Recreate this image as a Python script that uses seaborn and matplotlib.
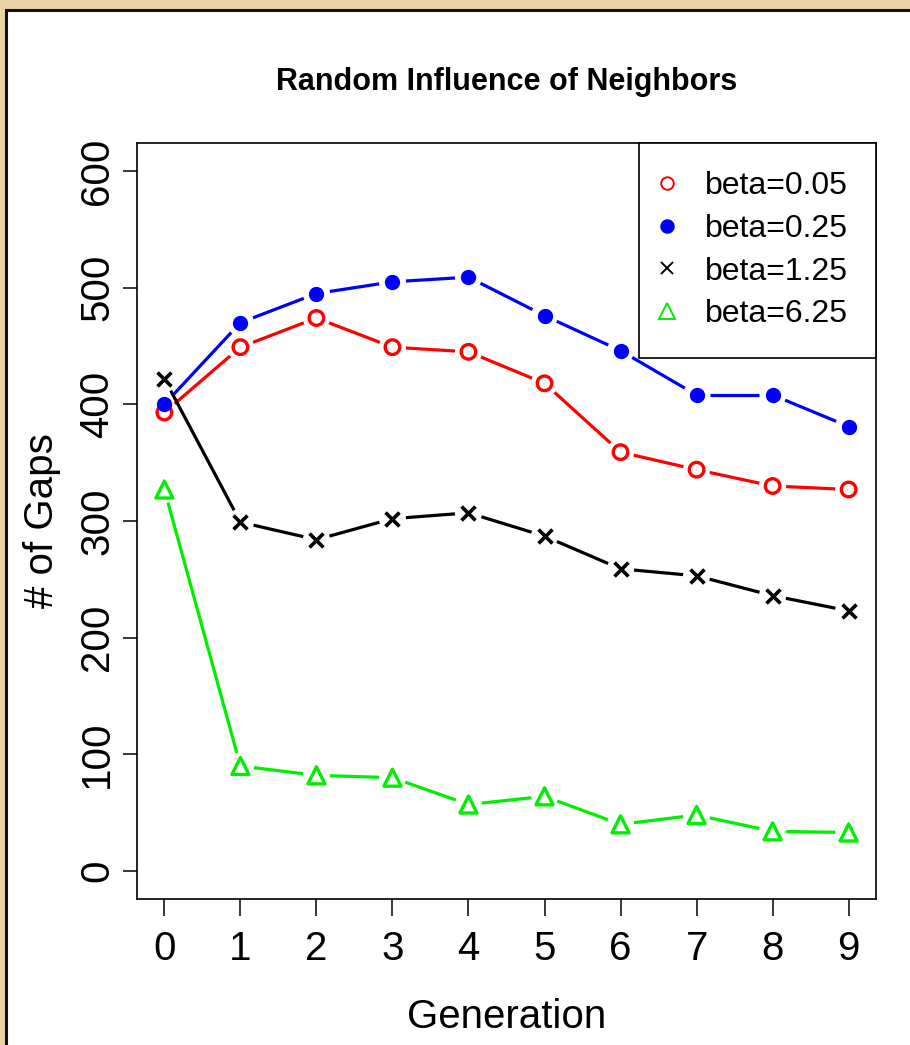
import numpy as np
import pandas as pd
import matplotlib
matplotlib.use("Agg")
import matplotlib.pyplot as plt
from matplotlib import font_manager
from matplotlib.lines import Line2D
from matplotlib.patches import Rectangle
import seaborn as sns

# ---- data -------------------------------------------------------------
generation = [0, 1, 2, 3, 4, 5, 6, 7, 8, 9]
gaps_beta_005 = [393, 449, 474, 449, 445, 418, 359, 344, 330, 327]
gaps_beta_025 = [400, 470, 495, 505, 509, 476, 446, 408, 408, 381]
gaps_beta_125 = [422, 299, 284, 302, 307, 287, 259, 253, 236, 223]
gaps_beta_625 = [327, 90, 82, 80, 57, 64, 40, 48, 34, 33]
series_labels = ["beta=0.05", "beta=0.25", "beta=1.25", "beta=6.25"]
y_ticks = [0, 100, 200, 300, 400, 500, 600]

sns.set_theme(style="white")
installed = {f.name for f in font_manager.fontManager.ttflist}
family = "Liberation Sans Narrow" if "Liberation Sans Narrow" in installed else "Liberation Sans"
plt.rcParams["font.family"] = [family, "DejaVu Sans"]
plt.rcParams["text.color"] = "black"
plt.rcParams["axes.labelcolor"] = "black"
plt.rcParams["xtick.color"] = "black"
plt.rcParams["ytick.color"] = "black"

W, H = 910, 1045
fig = plt.figure(figsize=(W / 100, H / 100), dpi=100, facecolor="#e8d3a6")

# white page with a dark frame on the parchment
page = Rectangle((6 / W, -0.05), 1.2, 1.05 - 10 / H,
                 transform=fig.transFigure, facecolor="white",
                 edgecolor="#111111", linewidth=2.2, zorder=-10)
fig.add_artist(page)

ax = fig.add_axes([137 / W, 1 - 899 / H, 739 / W, 756 / H])
ax.set_zorder(5)
ax.set_facecolor("white")
ax.set_xlim(-0.36, 9.36)
ax.set_ylim(-24, 624)

styles = [
    dict(color="#ff0000", marker="o", filled=False),
    dict(color="#0000ff", marker="o", filled=True),
    dict(color="#000000", marker="x", filled=False),
    dict(color="#00ee00", marker="^", filled=False),
]
all_series = [gaps_beta_005, gaps_beta_025, gaps_beta_125, gaps_beta_625]

fig.canvas.draw()
to_disp = ax.transData
to_data = ax.transData.inverted()
gap_px = 13.5

for vals, st in zip(all_series, styles):
    pts = to_disp.transform(np.column_stack([generation, vals]))
    # connecting segments stop short of each point (type "b" look)
    for p, q in zip(pts[:-1], pts[1:]):
        d = q - p
        L = np.hypot(*d)
        if L <= 2 * gap_px:
            continue
        u = d / L
        a = to_data.transform(p + u * gap_px)
        b = to_data.transform(q - u * gap_px)
        ax.plot([a[0], b[0]], [a[1], b[1]], color=st["color"], lw=2.3,
                solid_capstyle="butt", zorder=2)
    df = pd.DataFrame({"generation": generation, "gaps": vals})
    if st["marker"] == "x":
        sns.scatterplot(data=df, x="generation", y="gaps", ax=ax, marker="x",
                        s=100, color=st["color"], linewidth=2.6, zorder=3)
    elif st["filled"]:
        sns.scatterplot(data=df, x="generation", y="gaps", ax=ax, marker="o",
                        s=100, color=st["color"], edgecolor=st["color"],
                        linewidth=1, zorder=3)
    else:
        sns.scatterplot(data=df, x="generation", y="gaps", ax=ax,
                        marker=st["marker"], s=110 if st["marker"] == "o" else 150,
                        facecolor="none", edgecolor=st["color"],
                        linewidth=2.4, zorder=3)

# frame, ticks, labels
for sp in ax.spines.values():
    sp.set_visible(True)
    sp.set_color("black")
    sp.set_linewidth(1.2)
ax.set_xticks(generation)
ax.set_xticklabels([str(g) for g in generation])
ax.set_yticks(y_ticks)
ax.set_yticklabels([str(v) for v in y_ticks], rotation=90, va="center")
ax.tick_params(axis="x", bottom=True, length=12, width=1.1, pad=10,
               labelsize=29)
ax.tick_params(axis="y", left=True, length=10, width=1.1, pad=5,
               labelsize=29)
ax.grid(False)
ax.set_xlabel("Generation", fontsize=29, labelpad=22)
ax.set_ylabel("# of Gaps", fontsize=29, labelpad=12)
ax.set_title("Random Influence of Neighbors", fontsize=22, fontweight="bold",
             pad=38)

handles = []
for lab, st in zip(series_labels, styles):
    handles.append(Line2D([], [], linestyle="none", marker=st["marker"],
                          markersize=9 if st["marker"] != "^" else 11,
                          markerfacecolor=st["color"] if st["filled"] else "none",
                          markeredgecolor=st["color"], markeredgewidth=1.4,
                          label=lab))
leg = ax.legend(handles=handles, loc="upper right", bbox_to_anchor=(1, 1),
                borderaxespad=0, frameon=True, fancybox=False, fontsize=23,
                handlelength=0.0, handletextpad=1.19, labelspacing=0.4,
                borderpad=0.88, framealpha=1, facecolor="white")
leg.get_frame().set_edgecolor("black")
leg.get_frame().set_linewidth(1.2)
leg.get_frame().set_boxstyle("square", pad=0)

fig.savefig("out.png", dpi=100, facecolor=fig.get_facecolor())
